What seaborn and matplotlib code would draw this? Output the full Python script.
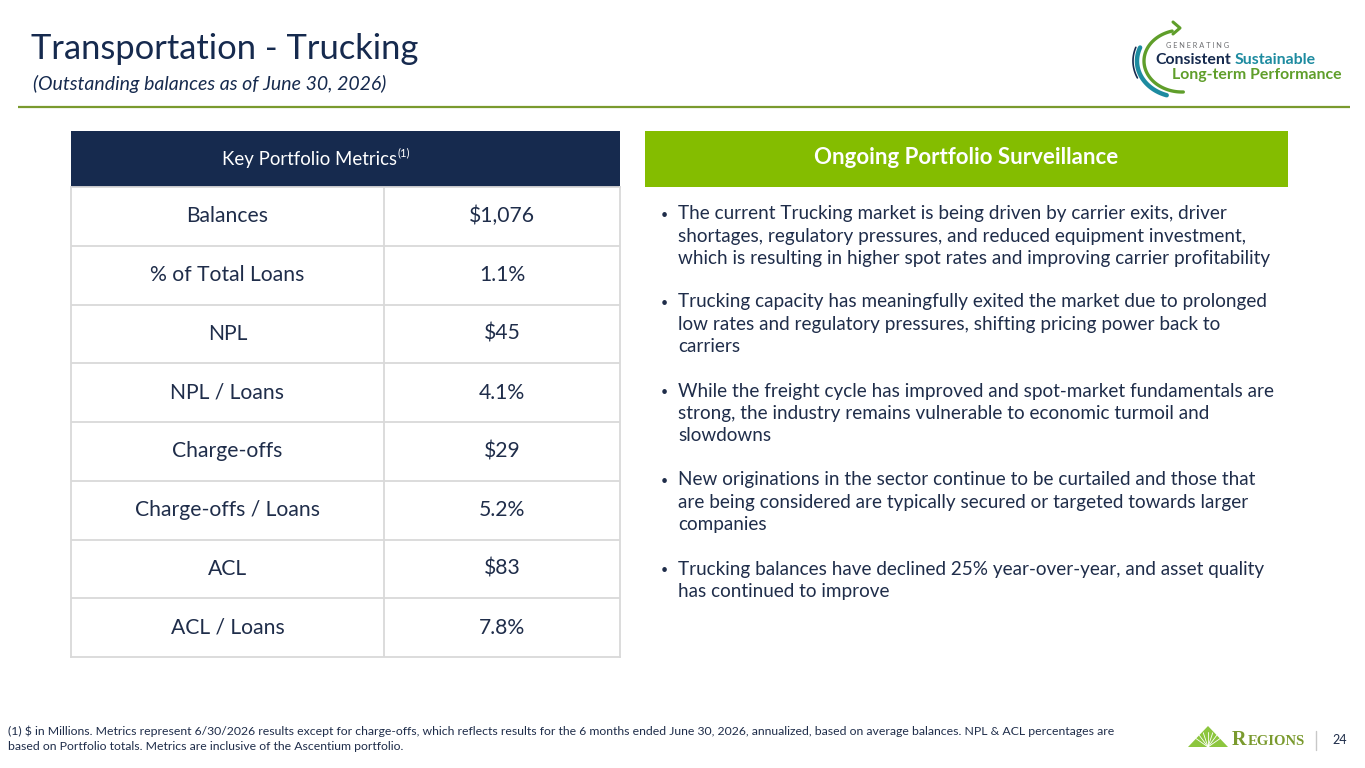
import numpy as np
import pandas as pd
import matplotlib
matplotlib.use("Agg")
import matplotlib.pyplot as plt
import matplotlib.patches as mpatches
import seaborn as sns

sns.set_theme(style="white")
plt.rcParams['font.family'] = ['Lato', 'DejaVu Sans']
plt.rcParams['text.parse_math'] = False

# ---------------- data ----------------
title = "Transportation - Trucking"
subtitle = "(Outstanding balances as of June 30, 2026)"
table_header = "Key Portfolio Metrics"
metrics = ["Balances", "% of Total Loans", "NPL", "NPL / Loans",
           "Charge-offs", "Charge-offs / Loans", "ACL", "ACL / Loans"]
values = ["$1,076", "1.1%", "$45", "4.1%", "$29", "5.2%", "$83", "7.8%"]
panel_header = "Ongoing Portfolio Surveillance"
bullets = [
    ["The current Trucking market is being driven by carrier exits, driver",
     "shortages, regulatory pressures, and reduced equipment investment,",
     "which is resulting in higher spot rates and improving carrier profitability"],
    ["Trucking capacity has meaningfully exited the market due to prolonged",
     "low rates and regulatory pressures, shifting pricing power back to",
     "carriers"],
    ["While the freight cycle has improved and spot-market fundamentals are",
     "strong, the industry remains vulnerable to economic turmoil and",
     "slowdowns"],
    ["New originations in the sector continue to be curtailed and those that",
     "are being considered are typically secured or targeted towards larger",
     "companies"],
    ["Trucking balances have declined 25% year-over-year, and asset quality",
     "has continued to improve"],
]
footnote = ["(1) $ in Millions. Metrics represent 6/30/2026 results except for charge-offs, which reflects results for the 6 months ended June 30, 2026, annualized, based on average balances. NPL & ACL percentages are",
            "based on Portfolio totals. Metrics are inclusive of the Ascentium portfolio."]
page_number = "24"

NAVY = "#162a4e"
TEXT = "#1f2d4a"
GREEN = "#84bd00"
OLIVE = "#7a9a2e"
LOGO_GREEN = "#5f9e2a"
TEAL = "#1d8ba0"
GRID = "#d9d9d9"

W, H = 1365, 768
fig = plt.figure(figsize=(W / 100, H / 100), dpi=100)
fig.patch.set_facecolor("white")

bg = fig.add_axes([0, 0, 1, 1])
bg.set_xlim(0, W)
bg.set_ylim(H, 0)
bg.axis("off")

# ---------------- title ----------------
bg.text(31, 49, title, fontsize=24.8, color=NAVY, va="center", ha="left")
bg.text(33, 84, subtitle, fontsize=14, color=NAVY, va="center", ha="left", style="italic")
bg.plot([18, 1350], [107, 107], color=OLIVE, lw=1.6, solid_capstyle="butt")

# ---------------- top-right logo ----------------
cx, cy, rx, ry = 1182, 61, 38, 31
t = np.radians(np.linspace(105, 272, 80))
bg.plot(cx + rx * np.cos(t), cy - ry * np.sin(t), color=LOGO_GREEN, lw=2.4)
bg.plot([1173, 1180, 1173], [22, 28, 34], color=LOGO_GREEN, lw=2.2)
t2 = np.radians(np.linspace(158, 252, 60))
bg.plot(cx - 2 + (rx + 5) * np.cos(t2), cy - (ry + 5) * np.sin(t2), color=TEAL, lw=3.2)
t3 = np.radians(np.linspace(160, 205, 40))
bg.plot(cx - 2 + (rx + 9) * np.cos(t3), cy - (ry + 9) * np.sin(t3), color=NAVY, lw=1.2)
bg.text(1166, 45, "G E N E R A T I N G", fontsize=5.3, color="#6d6e71", va="center", ha="left")
bg.text(1155, 60, "Consistent", fontsize=11.4, weight="bold", color=NAVY, va="center", ha="left")
bg.text(1235, 60, "Sustainable", fontsize=11.4, weight="bold", color=TEAL, va="center", ha="left")
bg.text(1172, 75, "Long-term Performance", fontsize=11.4, weight="bold", color=LOGO_GREEN,
        va="center", ha="left")

# ---------------- table (seaborn heatmap grid) ----------------
tab_l, tab_r, tab_top, tab_hdr, tab_bot, tab_div = 71, 620, 131, 187, 657, 384
bg.add_patch(mpatches.Rectangle((tab_l, tab_top), tab_r - tab_l, tab_hdr - tab_top,
                                facecolor=NAVY, edgecolor="none"))
bg.text(222, 159, table_header, fontsize=13.4, color="white", va="center", ha="left")
bg.text(398, 153, "(1)", fontsize=8, color="white", va="center", ha="left")

tax = fig.add_axes([tab_l / W, 1 - tab_bot / H, (tab_r - tab_l) / W, (tab_bot - tab_hdr) / H])
grid = pd.DataFrame(np.zeros((len(metrics), 2)), index=metrics, columns=["Metric", "Value"])
sns.heatmap(grid, ax=tax, cmap=["white"], cbar=False, linewidths=0,
            xticklabels=False, yticklabels=False)
tax.set_xlim(0, 2)
tax.set_ylim(len(metrics), 0)
xdiv = 2 * (tab_div - tab_l) / (tab_r - tab_l)
for i in range(1, len(metrics)):
    tax.axhline(i, color=GRID, lw=1.3)
tax.axvline(xdiv, color=GRID, lw=1.3)
for s in tax.spines.values():
    s.set_visible(True)
    s.set_color(GRID)
    s.set_linewidth(1.3)
for i, (m, v) in enumerate(zip(metrics, values)):
    tax.text(xdiv / 2, i + 0.5, m, fontsize=15.2, color=TEXT, va="center", ha="center")
    tax.text((xdiv + 2) / 2, i + 0.5, v, fontsize=15.2, color=TEXT, va="center", ha="center")

# ---------------- right panel ----------------
bg.add_patch(mpatches.Rectangle((645, 131), 1288 - 645, 56, facecolor=GREEN, edgecolor="none"))
bg.text(966, 158, panel_header, fontsize=16, weight="bold", color="white",
        va="center", ha="center")
starts = [214, 302, 391, 480, 569]
for y0, lines in zip(starts, bullets):
    bg.text(664, y0 + 1, "\u2022", fontsize=9, color=TEXT, va="center", ha="center")
    for k, ln in enumerate(lines):
        bg.text(678, y0 + k * 22.2, ln, fontsize=13.6, color=TEXT, va="center", ha="left")

# ---------------- footnote ----------------
for k, ln in enumerate(footnote):
    bg.text(8, 731 + k * 15.5, ln, fontsize=8.8, color=TEXT, va="center", ha="left")

# ---------------- bottom-right logo ----------------
bg.add_patch(mpatches.Polygon([[1188, 747], [1208, 726], [1228, 747]], closed=True,
                              facecolor="#8cc63e", edgecolor="none"))
for ang in np.linspace(-55, 55, 7):
    a = np.radians(ang)
    bg.plot([1208, 1208 + 15 * np.sin(a)], [747, 747 - 15 * np.cos(a)], color="white", lw=0.6)
bg.text(1232, 740, "R", fontsize=14.5, color=OLIVE, va="center", ha="left", weight="bold",
        family=["Liberation Serif", "DejaVu Serif"])
bg.text(1248, 741.5, "EGIONS", fontsize=10.5, color=OLIVE, va="center", ha="left", weight="bold",
        family=["Liberation Serif", "DejaVu Serif"])
bg.plot([1316, 1316], [731, 750], color="#c8c8c8", lw=1)
bg.text(1340, 740, page_number, fontsize=9, color=TEXT, va="center", ha="center")

fig.savefig("out.png", dpi=100, facecolor="white")
